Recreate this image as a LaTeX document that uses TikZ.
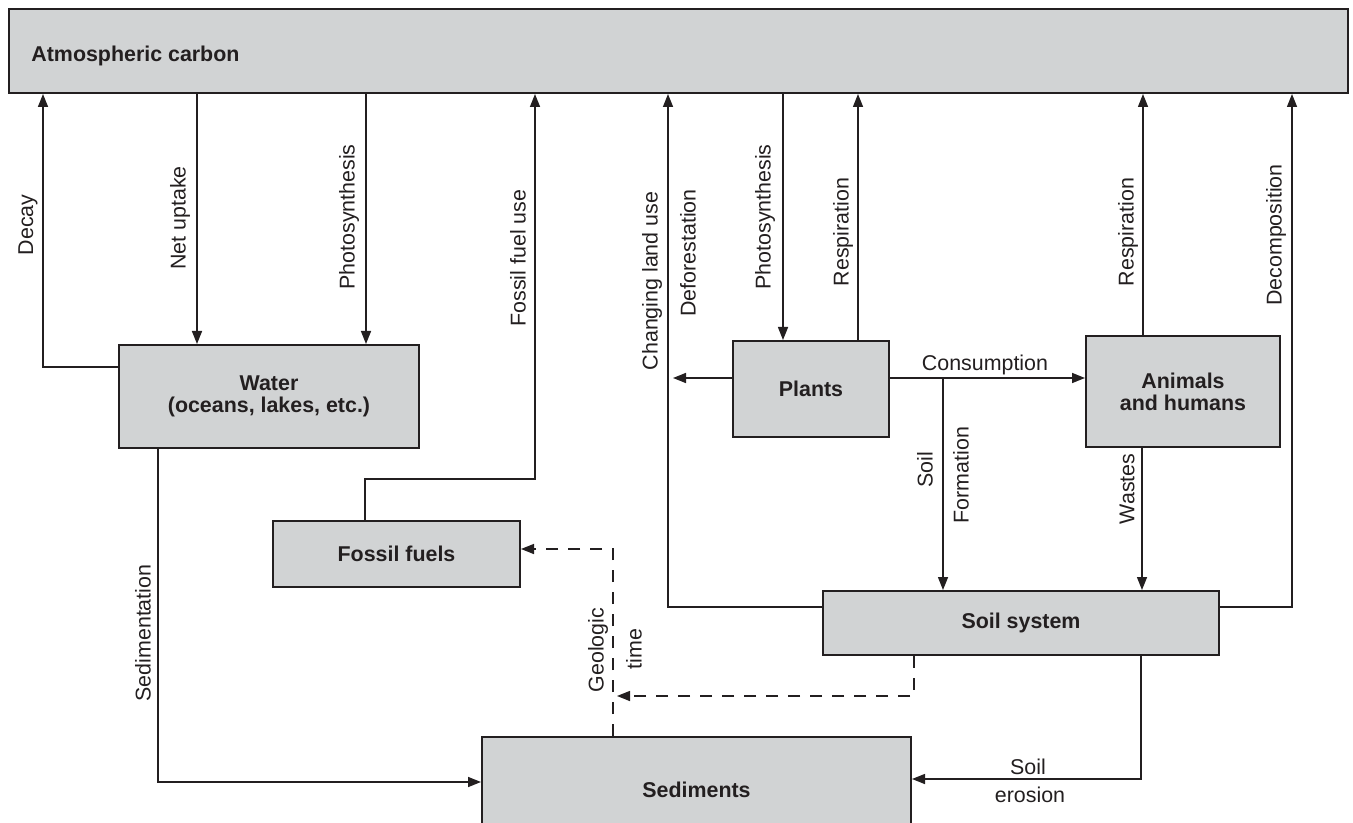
\documentclass[tikz,border=0pt]{standalone}
\usepackage{fontspec}
\setmainfont{Liberation Sans}
\usetikzlibrary{arrows.meta}
\definecolor{boxfill}{HTML}{D1D3D4}
\definecolor{ink}{HTML}{231F20}
\newcommand{\figfont}{\fontsize{10.7}{11}\selectfont}
\begin{document}
\begin{tikzpicture}[x=0.5pt,y=-0.5pt,
  box/.style={draw=ink, line width=1pt, fill=boxfill, inner sep=0pt, font=\bfseries\figfont, text=ink, align=center},
  arr/.style={draw=ink, line width=0.75pt, -{Triangle[length=6.5pt,width=5pt]}},
  ln/.style={draw=ink, line width=0.75pt},
  lbl/.style={font=\figfont, text=ink, inner sep=0pt},
  vlbl/.style={lbl, rotate=90},
  dsh/.style={dash pattern=on 6pt off 5pt}]
\useasboundingbox (0,0) rectangle (1353,823);
\clip (0,0) rectangle (1353,823);
\fill[white] (0,0) rectangle (1353,823);

% boxes
\node[box, minimum width=669.5pt, minimum height=42pt] (atmo) at (678.5,51) {};
\node[lbl, font=\bfseries\figfont, anchor=base west] (atmotext) at (31,62) {Atmospheric carbon};
\node[box, minimum width=150pt, minimum height=51.5pt] (water) at (269,396.5) {Water\\(oceans, lakes, etc.)};
\node[box, minimum width=78pt, minimum height=48pt] (plants) at (811,389) {Plants};
\node[box, minimum width=97pt, minimum height=55.5pt] (animals) at (1183,391.5) {Animals\\and humans};
\node[box, minimum width=123.5pt, minimum height=33pt] (fossil) at (396.5,554) {Fossil fuels};
\node[box, minimum width=198pt, minimum height=32pt] (soil) at (1021,623) {Soil system};
\node[box, minimum width=214.5pt, minimum height=53pt] (sed) at (696.5,790) {Sediments};

% helper coordinates
\coordinate (c1) at (43,367);
\coordinate (c2) at (197,0);
\coordinate (c3) at (366,0);
\coordinate (c4) at (365,479);
\coordinate (c4b) at (535,479);
\coordinate (c5) at (668,607);
\coordinate (c6) at (673,378);
\coordinate (c7) at (783,0);
\coordinate (c8) at (858,0);
\coordinate (c9) at (0,378);
\coordinate (c10) at (943,378);
\coordinate (c11) at (1143,0);
\coordinate (c12) at (1142,0);
\coordinate (c13) at (1292,607);
\coordinate (c14) at (158,782);
\coordinate (c15) at (1141,779);
\coordinate (c16) at (914,696);
\coordinate (c16b) at (617,696);
\coordinate (c17) at (613,549);

% connectors
\draw[arr] (c1 -| water.west) -- (c1) -- (c1 |- atmo.south);
\draw[arr] (c2 |- atmo.south) -- (c2 |- water.north);
\draw[arr] (c3 |- atmo.south) -- (c3 |- water.north);
\draw[arr] (c4 |- fossil.north) -- (c4) -- (c4b) -- (c4b |- atmo.south);
\draw[arr] (c5 -| soil.west) -- (c5) -- (c5 |- atmo.south);
\draw[arr] (c6 -| plants.west) -- (c6);
\draw[arr] (c7 |- atmo.south) -- (c7 |- plants.north);
\draw[arr] (c8 |- plants.north) -- (c8 |- atmo.south);
\draw[arr] (c9 -| plants.east) -- (c9 -| animals.west);
\draw[arr] (c10) -- (c10 |- soil.north);
\draw[arr] (c11 |- animals.north) -- (c11 |- atmo.south);
\draw[arr] (c12 |- animals.south) -- (c12 |- soil.north);
\draw[arr] (soil.east |- c13) -- (c13) -- (c13 |- atmo.south);
\draw[arr] (c14 |- water.south) -- (c14) -- (c14 -| sed.west);
\draw[arr] (c15 |- soil.south) -- (c15) -- (c15 -| sed.east);
\draw[arr, dsh] (c16 |- soil.south) -- (c16) -- (c16b);
\draw[arr, dsh] (c17 |- sed.north) -- (c17) -- (c17 -| fossil.east);

% labels
\node[vlbl] (l1) at (28,225) {Decay};
\node[vlbl] (l2) at (180,218) {Net uptake};
\node[vlbl] (l3) at (349,217) {Photosynthesis};
\node[vlbl] (l4) at (518,258) {Fossil fuel use};
\node[vlbl] (l5) at (652,281) {Changing land use};
\node[vlbl] (l5b) at (688,253) {Deforestation};
\node[vlbl] (l7) at (765,217) {Photosynthesis};
\node[vlbl] (l8) at (843,232) {Respiration};
\node[lbl, anchor=base] (l9) at (985,371) {Consumption};
\node[vlbl] (l10a) at (925,470) {Soil};
\node[vlbl] (l10b) at (961,475) {Formation};
\node[vlbl] (l11) at (1128,232) {Respiration};
\node[vlbl] (l12) at (1127,489) {Wastes};
\node[vlbl] (l13) at (1276,235) {Decomposition};
\node[vlbl] (l14) at (143,633) {Sedimentation};
\node[lbl, anchor=base] (l15a) at (1028,774) {Soil};
\node[lbl, anchor=base] (l15b) at (1030,802) {erosion};
\node[vlbl] (l16a) at (598,650) {Geologic};
\node[vlbl] (l16b) at (634,649) {time};
\end{tikzpicture}
\end{document}
